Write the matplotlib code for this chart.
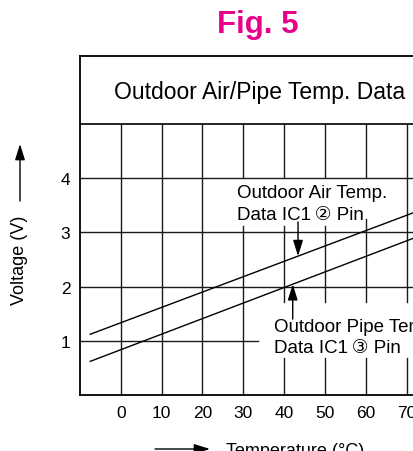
import numpy as np
import matplotlib
matplotlib.use("Agg")
import matplotlib.pyplot as plt

plt.rcParams['font.family'] = ['Liberation Sans', 'DejaVu Sans']

# data (two straight characteristics)
temp = [-7.5, 72.0]
air_volt = [1.12, 3.37]
pipe_volt = [0.62, 2.90]

xticks = [0, 10, 20, 30, 40, 50, 60, 70]
yticks = [1, 2, 3, 4]

fig = plt.figure(figsize=(4.14, 4.52), dpi=100)
ax = fig.add_axes([80 / 414, 56 / 452, 1 - 80 / 414, 339 / 452])
ax.set_xlim(-10, 71.8)
ax.set_ylim(0, 6.25)

# grid, with breaks where the labels sit
upper_gap = {30: (3.12, 4.02), 40: (3.12, 4.02), 50: (3.12, 4.02), 60: (3.24, 4.02)}
lower_gap = {40: (0.68, 1.71), 50: (0.68, 1.71), 60: (0.68, 1.71), 70: (0.68, 1.71)}
gc = '#1a1a1a'
for x in xticks:
    cuts = sorted([g for g in (upper_gap.get(x), lower_gap.get(x)) if g])
    y0 = 0
    for a, b in cuts:
        ax.plot([x, x], [y0, a], color=gc, lw=1.0)
        y0 = b
    ax.plot([x, x], [y0, 5], color=gc, lw=1.0)
for y in [2, 3, 4]:
    ax.axhline(y, color=gc, lw=1.0)
ax.plot([-10, 33.5], [1, 1], color=gc, lw=1.0)
ax.axhline(5, color='black', lw=1.2)

ax.plot(temp, air_volt, color='black', lw=1.0)
ax.plot(temp, pipe_volt, color='black', lw=1.0)

ax.spines['right'].set_visible(False)
for s in ['left', 'top', 'bottom']:
    ax.spines[s].set_linewidth(1.3)
ax.set_xticks(xticks)
ax.set_yticks(yticks)
ax.tick_params(length=0, labelsize=12.5, pad=7)

ax.text(-1.7, 5.47, 'Outdoor Air/Pipe Temp. Data', fontsize=16.5)

ax.text(28.4, 3.65, 'Outdoor Air Temp.', fontsize=13.5)
ax.text(28.4, 3.24, 'Data IC1\u2009\u2461 Pin', fontsize=13.5)
ax.text(37.5, 1.18, 'Outdoor Pipe Temp.', fontsize=13.5)
ax.text(37.5, 0.80, 'Data IC1\u2009\u2462 Pin', fontsize=13.5)

ast = dict(arrowstyle='-|>,head_length=0.8,head_width=0.25', mutation_scale=12,
           color='black', lw=1.0, shrinkA=0, shrinkB=0)
xa = 43.4
ax.annotate('', xy=(xa, np.interp(xa, temp, air_volt)), xytext=(xa, 3.19), arrowprops=ast)
xp = 42.1
ax.annotate('', xy=(xp, np.interp(xp, temp, pipe_volt)), xytext=(xp, 1.40), arrowprops=ast)

# axis captions with arrows
fig.text(20 / 414, 1 - 260 / 452, 'Voltage (V)', rotation=90, fontsize=13,
         ha='center', va='center')
fig.add_artist(matplotlib.patches.FancyArrowPatch((20 / 414, 1 - 202 / 452), (20 / 414, 1 - 145 / 452),
               transform=fig.transFigure, **ast))
fig.text(226 / 414, 1 - 443 / 452, 'Temperature (°C)', fontsize=13, ha='left', va='top')
fig.add_artist(matplotlib.patches.FancyArrowPatch((155 / 414, 1 - 450 / 452), (210 / 414, 1 - 450 / 452),
               transform=fig.transFigure, **ast))

fig.text(258 / 414, 1 - 33 / 452, 'Fig. 5', fontsize=22.5, fontweight='bold',
         color='#e6008a', ha='center', va='baseline')

fig.savefig('out.png', dpi=100)
